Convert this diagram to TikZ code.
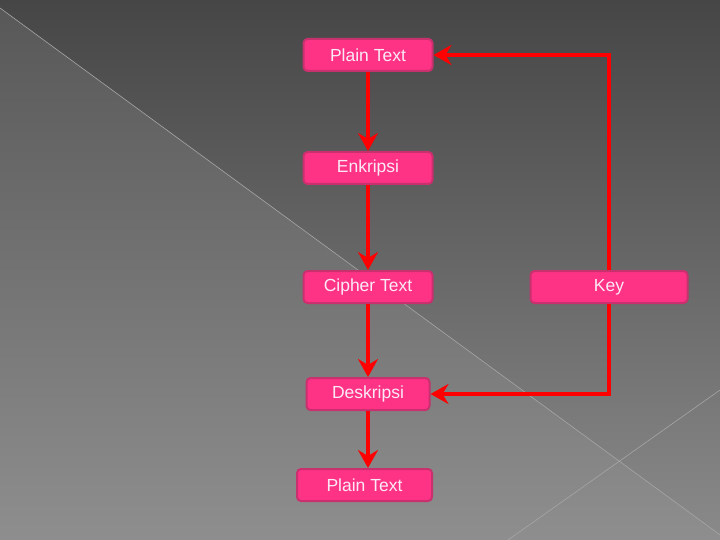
\documentclass[tikz,border=0pt]{standalone}
\usepackage{fontspec}
\setmainfont{Liberation Sans}
\usetikzlibrary{arrows.meta}
\definecolor{bgtop}{HTML}{464646}
\definecolor{bgmid}{HTML}{5A5A5A}
\definecolor{bgbot}{HTML}{8A8A8A}
\definecolor{lltop}{HTML}{585858}
\definecolor{llmid}{HTML}{6A6A6A}
\definecolor{llbot}{HTML}{8E8E8E}
\definecolor{boxfill}{HTML}{FF3385}
\definecolor{boxline}{HTML}{C8306E}
\definecolor{boxtext}{HTML}{FAEAF6}
\definecolor{arrred}{HTML}{FF0000}
\definecolor{thinline}{HTML}{A6A6A6}
\tikzset{
  box/.style={draw=boxline, fill=boxfill, line width=2pt, rounded corners=4pt,
    minimum height=32pt, inner sep=0pt, text=boxtext,
    font=\fontsize{17.5}{20}\selectfont},
  flow/.style={draw=arrred, line width=4pt,
    -{Stealth[length=18pt,width=20pt,inset=6pt]}},
}
\begin{document}
\begin{tikzpicture}[x=1pt,y=-1pt]
\useasboundingbox (0,0) rectangle (720,540);
\shade[top color=bgtop, middle color=bgmid, bottom color=bgbot] (0,0) rectangle (720,540);
\shade[top color=lltop, middle color=llmid, bottom color=llbot] (0,8) -- (727,540) -- (0,540) -- cycle;
\draw[thinline, line width=0.6pt] (0,8) -- (727,540);
\draw[thinline, line width=0.6pt] (720,390) -- (508,540);

\node[box, minimum width=129pt] (pt1) at (368,55) {Plain Text};
\node[box, minimum width=129pt] (enk) at (368,168) {Enkripsi};
\node[box, minimum width=129pt] (ct) at (368,287) {Cipher Text};
\node[box, minimum width=157pt] (key) at (609,287) {Key};
\node[box, minimum width=123pt] (desk) at (368,394) {Deskripsi};
\node[box, minimum width=135pt] (pt2) at (364.5,485) {Plain Text};

\draw[flow] (pt1.south) -- (enk.north);
\draw[flow] (enk.south) -- (ct.north);
\draw[flow] (ct.south) -- (desk.north);
\draw[flow] (desk.south) -- (desk.south |- pt2.north);
\draw[flow] (key.north) |- (pt1.east);
\draw[flow] (key.south) |- (desk.east);
\end{tikzpicture}
\end{document}
